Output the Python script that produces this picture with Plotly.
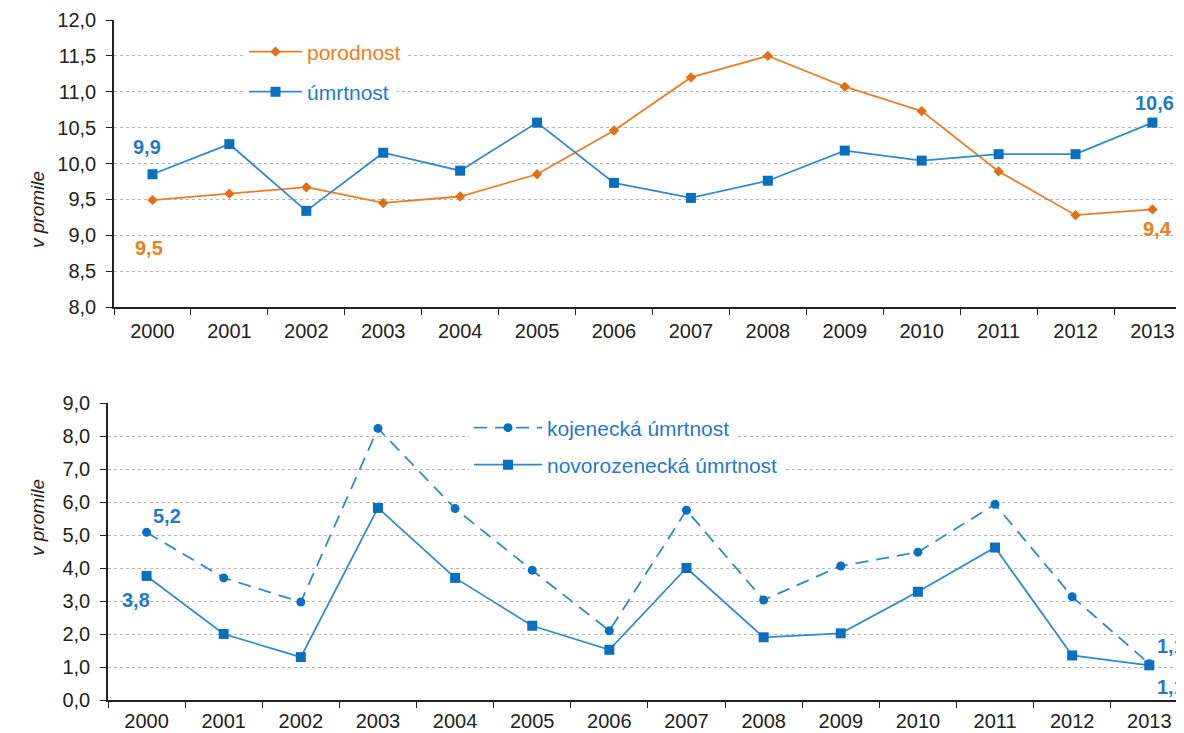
import plotly.graph_objects as go
from plotly.subplots import make_subplots

years = [str(y) for y in range(2000, 2014)]
porodnost = [9.49, 9.58, 9.67, 9.45, 9.54, 9.85, 10.46, 11.2, 11.5, 11.07, 10.73, 9.89, 9.28, 9.36]
umrtnost = [9.85, 10.27, 9.34, 10.15, 9.9, 10.57, 9.73, 9.52, 9.76, 10.18, 10.04, 10.13, 10.13, 10.57]
kojenecka = [5.08, 3.7, 2.97, 8.23, 5.8, 3.93, 2.1, 5.75, 3.03, 4.06, 4.48, 5.93, 3.13, 1.1]
novorozenecka = [3.76, 2.0, 1.3, 5.82, 3.7, 2.25, 1.52, 4.0, 1.9, 2.02, 3.28, 4.62, 1.35, 1.05]

top_ticks = [8.0, 8.5, 9.0, 9.5, 10.0, 10.5, 11.0, 11.5, 12.0]
bottom_ticks = [0.0, 1.0, 2.0, 3.0, 4.0, 5.0, 6.0, 7.0, 8.0, 9.0]

ORANGE = "#EE7D22"
BLUE_LINE = "#2F8AD0"
BLUE_MARK = "#0B6FC0"
BLUE_TEXT = "#1F7BC8"
FONT = "Liberation Sans, Arial, sans-serif"

# page has an 8px body margin: work in reference pixels, shift by OFF
OFF = 8
W, H = 1184 - OFF, 733 - OFF


def px(x):
    return (x - OFF) / W


def py(y):
    return 1 - (y - OFF) / H


fig = make_subplots(rows=2, cols=1, vertical_spacing=0.1)

fig.add_trace(go.Scatter(
    x=years, y=porodnost, mode="lines+markers",
    name=f'<span style="color:{ORANGE}">porodnost</span>',
    line=dict(color=ORANGE, width=1.8),
    marker=dict(symbol="diamond", size=8, color="#E0711A"),
    legend="legend"), row=1, col=1)
fig.add_trace(go.Scatter(
    x=years, y=umrtnost, mode="lines+markers",
    name=f'<span style="color:{BLUE_TEXT}">úmrtnost</span>',
    line=dict(color=BLUE_LINE, width=1.8),
    marker=dict(symbol="square", size=10, color=BLUE_MARK),
    legend="legend2"), row=1, col=1)
fig.add_trace(go.Scatter(
    x=years, y=kojenecka, mode="lines+markers",
    name=f'<span style="color:{BLUE_TEXT}">kojenecká úmrtnost</span>',
    line=dict(color=BLUE_LINE, width=1.8, dash="13px,8px"),
    marker=dict(symbol="circle", size=9, color=BLUE_MARK),
    legend="legend3"), row=2, col=1)
fig.add_trace(go.Scatter(
    x=years, y=novorozenecka, mode="lines+markers",
    name=f'<span style="color:{BLUE_TEXT}">novorozenecká úmrtnost</span>',
    line=dict(color=BLUE_LINE, width=1.8),
    marker=dict(symbol="square", size=10, color=BLUE_MARK),
    legend="legend4"), row=2, col=1)

# plot areas in reference pixels
top_y0, top_y1 = 20, 307
bot_y0, bot_y1 = 403, 700
top_x0, bot_x0 = 114, 108

axis_common = dict(
    showline=True, linecolor="#222", linewidth=1.5,
    tickfont=dict(family=FONT, size=20, color="#222"),
)

fig.update_xaxes(
    type="category", ticks="outside", tickson="boundaries", ticklen=6,
    tickcolor="#222", showgrid=False, **axis_common)
fig.update_xaxes(domain=[px(top_x0), 1], range=[-0.5, 13.41],
                 ticklabelstandoff=5, row=1, col=1)
fig.update_xaxes(domain=[px(bot_x0), 1], range=[-0.5, 13.45],
                 ticklabelstandoff=2, row=2, col=1)

fig.update_yaxes(
    ticks="outside", ticklen=6, tickcolor="#222", tickformat=".1f",
    showgrid=True, gridcolor="#b5b5b5", griddash="dot", gridwidth=1,
    zeroline=False, ticklabelstandoff=6, **axis_common)
fig.update_yaxes(domain=[py(top_y1), py(top_y0)], range=[8, 12],
                 tickvals=top_ticks, row=1, col=1)
fig.update_yaxes(domain=[py(bot_y1), py(bot_y0)], range=[0, 9],
                 tickvals=bottom_ticks, row=2, col=1)

annots = [
    dict(i=0, y=umrtnost[0], text="<b>9,9</b>", color=BLUE_TEXT, xref="x", yref="y", xs=-5, ys=27),
    dict(i=0, y=porodnost[0], text="<b>9,5</b>", color=ORANGE, xref="x", yref="y", xs=-3, ys=-48),
    dict(i=13, y=umrtnost[-1], text="<b>10,6</b>", color=BLUE_TEXT, xref="x", yref="y", xs=2, ys=20),
    dict(i=13, y=porodnost[-1], text="<b>9,4</b>", color=ORANGE, xref="x", yref="y", xs=5, ys=-20),
    dict(i=0, y=kojenecka[0], text="<b>5,2</b>", color=BLUE_TEXT, xref="x2", yref="y2", xs=20, ys=16),
    dict(i=0, y=novorozenecka[0], text="<b>3,8</b>", color=BLUE_TEXT, xref="x2", yref="y2", xs=-11, ys=-24),
    dict(i=13, y=kojenecka[-1], text="<b>1,1</b>", color=BLUE_TEXT, xref="x2", yref="y2", xs=22, ys=18),
    dict(i=13, y=novorozenecka[-1], text="<b>1,1</b>", color=BLUE_TEXT, xref="x2", yref="y2", xs=22, ys=-22),
]
for a in annots:
    fig.add_annotation(x=a["i"], y=a["y"], xref=a["xref"], yref=a["yref"], text=a["text"],
                       showarrow=False, xshift=a["xs"], yshift=a["ys"],
                       font=dict(family=FONT, size=20, color=a["color"]))

# axis titles
for yc in [169, 558]:
    fig.add_annotation(x=px(25), y=py(yc), xref="paper", yref="paper",
                       text="<i>v promile</i>", showarrow=False, textangle=-90,
                       font=dict(family=FONT, size=19, color="#222"))


def leg(x, y, iw):
    return dict(x=px(x), y=py(y), bgcolor="white", font=dict(family=FONT, size=21),
                itemwidth=iw, xanchor="left", yanchor="middle", borderwidth=0)


fig.update_layout(
    width=W, height=H,
    margin=dict(l=0, r=0, t=0, b=0, autoexpand=False),
    paper_bgcolor="white", plot_bgcolor="white",
    separators=", ",
    showlegend=True,
    legend=leg(244, 52, 53),
    legend2=leg(244, 92, 53),
    legend3=leg(469, 428, 68),
    legend4=leg(469, 465, 68),
)

fig.write_html("out.html")
